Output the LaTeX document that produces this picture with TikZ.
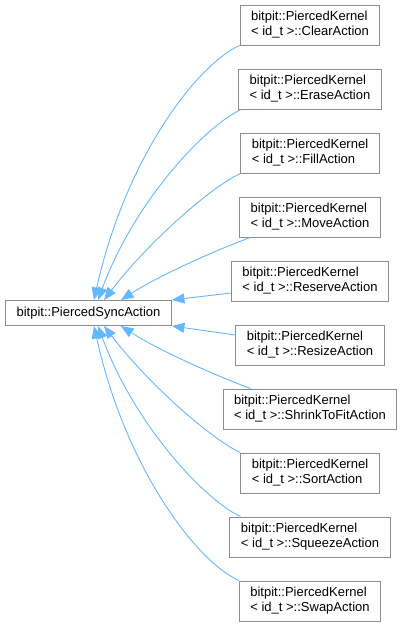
\documentclass[tikz,border=0pt]{standalone}
\usepackage{fontspec}
\setmainfont{Liberation Sans}
\usetikzlibrary{
  arrows.meta,
  positioning
}
\definecolor{edgeblue}{HTML}{63B8FF}
\definecolor{boxgray}{HTML}{8C8C8C}
\tikzset{
  classbox/.style={
    draw=boxgray,
    line width=1pt,
    fill=white,
    align=left,
    inner xsep=11pt,
    inner ysep=3pt,
    font=\fontsize{13pt}{15pt}\selectfont
  },
  baseclass/.style={classbox, minimum height=25pt},
  derived/.style={classbox, minimum height=40pt},
  inherit/.style={-{Triangle[length=12.5pt,width=10pt]}, line width=0.9pt, draw=edgeblue}
}

\begin{document}
\begin{tikzpicture}[x=1pt, y=-1pt, node distance=23pt]
  \useasboundingbox (0,0) rectangle (405,627);

  \node[baseclass] (base) at (88.5,313) {bitpit::PiercedSyncAction};

  \node[derived] (clear) at (310,25)
    {bitpit::PiercedKernel\\< id\_t >::ClearAction};
  \node[derived, below=of clear] (erase)
    {bitpit::PiercedKernel\\< id\_t >::EraseAction};
  \node[derived, below=of erase] (fill)
    {bitpit::PiercedKernel\\< id\_t >::FillAction};
  \node[derived, below=of fill] (move)
    {bitpit::PiercedKernel\\< id\_t >::MoveAction};
  \node[derived, below=of move] (reserve)
    {bitpit::PiercedKernel\\< id\_t >::ReserveAction};
  \node[derived, below=of reserve] (resize)
    {bitpit::PiercedKernel\\< id\_t >::ResizeAction};
  \node[derived, below=of resize] (shrink)
    {bitpit::PiercedKernel\\< id\_t >::ShrinkToFitAction};
  \node[derived, below=of shrink] (sort)
    {bitpit::PiercedKernel\\< id\_t >::SortAction};
  \node[derived, below=of sort] (squeeze)
    {bitpit::PiercedKernel\\< id\_t >::SqueezeAction};
  \node[derived, below=of squeeze] (swap)
    {bitpit::PiercedKernel\\< id\_t >::SwapAction};

  \draw[inherit] (clear.south west)
    .. controls +(-44,20) and +(31,-140) .. ([xshift=5.5pt]base.north);
  \draw[inherit] ([xshift=3pt]erase.south west)
    .. controls +(-35,16) and +(37,-100) .. ([xshift=9.5pt]base.north);
  \draw[inherit] (fill.south west)
    .. controls +(-27,12) and +(46,-60) .. ([xshift=15.5pt]base.north);
  \draw[inherit] ([xshift=11pt]move.south west)
    .. controls +(-35,13) and +(39,-25) .. ([xshift=32.5pt]base.north);
  \draw[inherit] ([yshift=-12pt]reserve.west) -- (base.north east);
  \draw[inherit] ([yshift=10pt]resize.west) -- (base.south east);
  \draw[inherit] ([xshift=28pt]shrink.north west)
    .. controls +(-35,-13) and +(39,25) .. ([xshift=32.5pt]base.south);
  \draw[inherit] (sort.north west)
    .. controls +(-27,-12) and +(46,60) .. ([xshift=15.5pt]base.south);
  \draw[inherit] ([xshift=11pt]squeeze.north west)
    .. controls +(-35,-16) and +(37,100) .. ([xshift=9.5pt]base.south);
  \draw[inherit] (swap.north west)
    .. controls +(-44,-20) and +(31,140) .. ([xshift=5.5pt]base.south);
\end{tikzpicture}
\end{document}
